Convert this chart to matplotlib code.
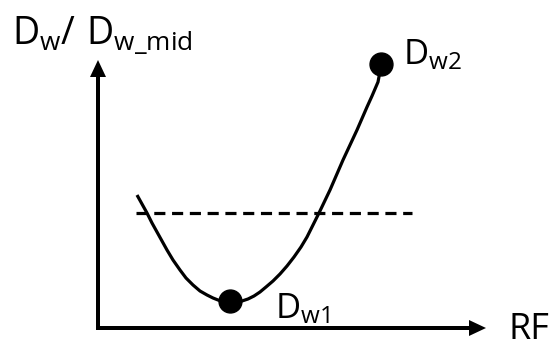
import matplotlib
matplotlib.use('Agg')
import matplotlib.pyplot as plt

plt.rcParams['font.family'] = ['Open Sans', 'DejaVu Sans']
plt.rcParams['mathtext.fontset'] = 'custom'
plt.rcParams['mathtext.rm'] = 'Open Sans'
plt.rcParams['mathtext.it'] = 'Open Sans'
plt.rcParams['lines.scale_dashes'] = False

# curve (pixel coords, y downwards)
curve_x = [137, 142, 147, 152, 157, 162, 167, 173, 180, 186, 193, 200, 207,
           213, 218, 224, 230, 236, 242, 248, 254, 260, 266, 273, 280, 287,
           294, 301, 307, 313, 319, 330, 343, 357, 367, 372, 378, 381]
curve_y = [195, 204, 213, 223, 232, 241, 250, 260, 270, 278, 285, 291, 295,
           298, 300, 302, 303, 302, 301, 299, 296, 292, 287, 281, 274, 266,
           257, 247, 237, 225, 213, 190, 160, 130, 107, 96, 82, 66]

# reference level (dashed)
mid_x = [136, 412]
mid_y = [213, 213]

# the two marked points
pts_x = [230, 381]
pts_y = [301, 64]

fig = plt.figure(figsize=(5.52, 3.47), dpi=100)
ax = fig.add_axes([0, 0, 1, 1])
ax.set_xlim(0, 552)
ax.set_ylim(347, 0)
ax.axis('off')

# axes with arrows
ax.arrow(98, 330, 0, -270, width=4, head_width=16, head_length=17,
         length_includes_head=True, fc='black', ec='none')
ax.arrow(96, 328, 390, 0, width=4, head_width=16, head_length=17,
         length_includes_head=True, fc='black', ec='none')

ax.plot(mid_x, mid_y, color='black', lw=2.3, dashes=(8, 4.8))
ax.plot(curve_x, curve_y, color='black', lw=2.3, solid_capstyle='butt',
        solid_joinstyle='round')
ax.plot(pts_x, pts_y, 'o', color='black', markersize=16.5)

ax.text(12, 45, r'$\mathrm{D_{w}/\ D_{w\_mid}}$', fontsize=27, ha='left', va='baseline')
ax.text(403, 64, r'$\mathrm{D_{w2}}$', fontsize=25, ha='left', va='baseline')
ax.text(275, 318, r'$\mathrm{D_{w1}}$', fontsize=25, ha='left', va='baseline')
ax.text(509, 339, 'RF', fontsize=26, ha='left', va='baseline')

fig.savefig('out.png', dpi=100)
